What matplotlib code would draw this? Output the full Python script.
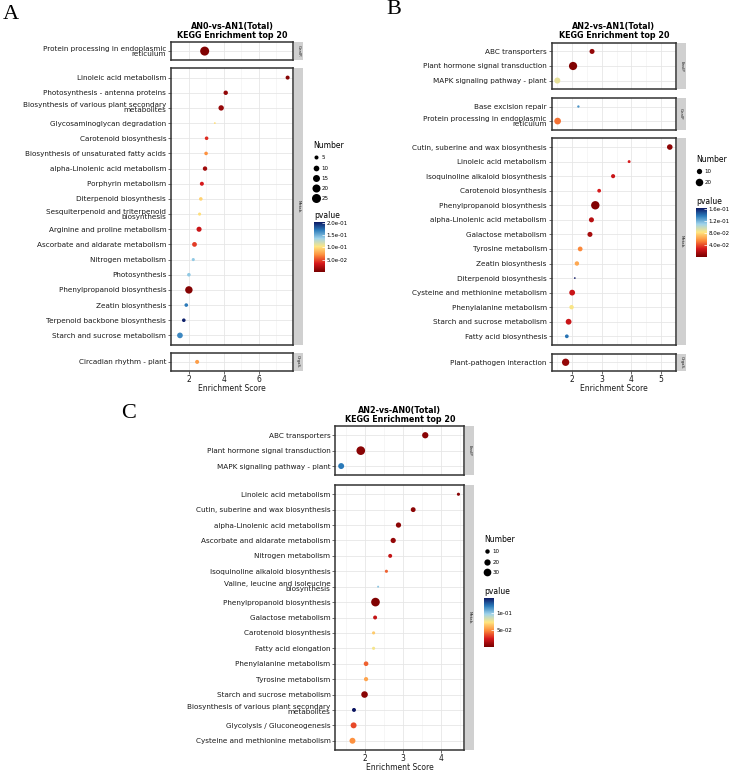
import matplotlib
matplotlib.use("Agg")
import matplotlib.pyplot as plt
from matplotlib.colors import LinearSegmentedColormap, Normalize
from matplotlib.cm import ScalarMappable
from matplotlib.lines import Line2D

W, H = 730, 772
plt.rcParams['font.family'] = ['DejaVu Sans']

# ---- A: AN0-vs-AN1 ----
A_terms = ["Protein processing in endoplasmic\nreticulum", "Linoleic acid metabolism",
           "Photosynthesis - antenna proteins", "Biosynthesis of various plant secondary\nmetabolites",
           "Glycosaminoglycan degradation", "Carotenoid biosynthesis",
           "Biosynthesis of unsaturated fatty acids", "alpha-Linolenic acid metabolism",
           "Porphyrin metabolism", "Diterpenoid biosynthesis",
           "Sesquiterpenoid and triterpenoid\nbiosynthesis", "Arginine and proline metabolism",
           "Ascorbate and aldarate metabolism", "Nitrogen metabolism", "Photosynthesis",
           "Phenylpropanoid biosynthesis", "Zeatin biosynthesis", "Terpenoid backbone biosynthesis",
           "Starch and sucrose metabolism", "Circadian rhythm - plant"]
A_class = ["GenIP."] + ["Metab."] * 18 + ["OrgaS."]
A_score = [2.92, 7.65, 4.12, 3.86, 3.50, 3.03, 3.00, 2.94, 2.76, 2.70,
           2.63, 2.60, 2.34, 2.27, 2.02, 2.02, 1.87, 1.73, 1.51, 2.49]
A_number = [25, 5, 6, 9, 1, 4, 4, 6, 5, 4, 3, 8, 7, 3, 4, 17, 4, 4, 10, 5]
A_pvalue = [0.004, 0.006, 0.010, 0.012, 0.100, 0.040, 0.070, 0.015, 0.035, 0.095,
            0.100, 0.030, 0.045, 0.140, 0.140, 0.005, 0.170, 0.200, 0.165, 0.075]

# ---- B: AN2-vs-AN1 ----
B_terms = ["ABC transporters", "Plant hormone signal transduction", "MAPK signaling pathway - plant",
           "Base excision repair", "Protein processing in endoplasmic\nreticulum",
           "Cutin, suberine and wax biosynthesis", "Linoleic acid metabolism",
           "Isoquinoline alkaloid biosynthesis", "Carotenoid biosynthesis",
           "Phenylpropanoid biosynthesis", "alpha-Linolenic acid metabolism", "Galactose metabolism",
           "Tyrosine metabolism", "Zeatin biosynthesis", "Diterpenoid biosynthesis",
           "Cysteine and methionine metabolism", "Phenylalanine metabolism",
           "Starch and sucrose metabolism", "Fatty acid biosynthesis", "Plant-pathogen interaction"]
B_class = ["EnvIP"] * 3 + ["GenIP"] * 2 + ["Metab."] * 14 + ["OrgaS."]
B_score = [2.67, 2.03, 1.50, 2.21, 1.51, 5.29, 3.92, 3.38, 2.91, 2.78,
           2.65, 2.60, 2.27, 2.16, 2.09, 2.00, 1.98, 1.88, 1.82, 1.78]
B_number = [9, 24, 13, 2, 16, 11, 3, 6, 5, 25, 9, 9, 8, 7, 1, 12, 7, 12, 5, 19]
B_pvalue = [0.010, 0.004, 0.090, 0.130, 0.050, 0.008, 0.030, 0.025, 0.030, 0.005,
            0.020, 0.015, 0.055, 0.065, 0.165, 0.025, 0.085, 0.025, 0.140, 0.010]

# ---- C: AN2-vs-AN0 ----
C_terms = ["ABC transporters", "Plant hormone signal transduction", "MAPK signaling pathway - plant",
           "Linoleic acid metabolism", "Cutin, suberine and wax biosynthesis",
           "alpha-Linolenic acid metabolism", "Ascorbate and aldarate metabolism",
           "Nitrogen metabolism", "Isoquinoline alkaloid biosynthesis",
           "Valine, leucine and isoleucine\nbiosynthesis", "Phenylpropanoid biosynthesis",
           "Galactose metabolism", "Carotenoid biosynthesis", "Fatty acid elongation",
           "Phenylalanine metabolism", "Tyrosine metabolism", "Starch and sucrose metabolism",
           "Biosynthesis of various plant secondary\nmetabolites", "Glycolysis / Gluconeogenesis",
           "Cysteine and methionine metabolism"]
C_class = ["EnvIP"] * 3 + ["Metab."] * 17
C_score = [3.59, 1.88, 1.36, 4.47, 3.27, 2.88, 2.74, 2.66, 2.56, 2.34,
           2.27, 2.26, 2.22, 2.22, 2.02, 2.02, 1.98, 1.70, 1.69, 1.66]
C_number = [20, 38, 18, 5, 12, 14, 14, 8, 5, 2, 38, 8, 5, 5, 11, 9, 22, 8, 18, 18]
C_pvalue = [0.005, 0.005, 0.120, 0.005, 0.006, 0.006, 0.008, 0.020, 0.040, 0.100,
            0.003, 0.020, 0.065, 0.075, 0.040, 0.055, 0.005, 0.144, 0.035, 0.050]

cmap = LinearSegmentedColormap.from_list(
    "pv", ["#7a0000", "#d7191c", "#fd8d3c", "#ffe680", "#9fd3ea", "#2b7bba", "#0a1460"])


def box(l, t, w, h):
    # pixel box (from top-left) -> figure fraction
    return [l / W, 1 - (t + h) / H, w / W, h / H]


def draw_panel(fig, terms, classes, score, number, pvalue, lay):
    groups = list(dict.fromkeys(classes))
    counts = [classes.count(g) for g in groups]
    units = [c + 0.2 for c in counts]
    avail = lay['bottom'] - lay['top'] - lay['gap'] * (len(groups) - 1)
    ppu = avail / sum(units)
    lo, hi = min(score), max(score)
    pad = 0.05 * (hi - lo)
    norm = Normalize(*lay['vlim'])
    width = lay['right'] - lay['left']

    y0 = lay['top']
    start = 0
    ax = None
    for gi, g in enumerate(groups):
        n = counts[gi]
        h = units[gi] * ppu
        ax = fig.add_axes(box(lay['left'], y0, width, h))
        idx = list(range(start, start + n))
        ys = [n - 1 - (i - start) for i in idx]
        ax.scatter([score[i] for i in idx], ys, s=[lay['k'] * number[i] for i in idx],
                   c=[pvalue[i] for i in idx], cmap=cmap, norm=norm,
                   edgecolors='none', zorder=3, clip_on=False)
        ax.set_xlim(lo - pad, hi + pad)
        ax.set_ylim(-0.6, n - 0.4)
        ax.set_yticks(ys)
        ax.set_yticklabels([terms[i] for i in idx], linespacing=0.8)
        ax.set_xticks(lay['xticks'])
        ax.set_xticks(lay['minor'], minor=True)
        ax.set_axisbelow(True)
        ax.grid(which='major', color='#e6e6e6', lw=0.6)
        ax.grid(which='minor', axis='x', color='#f0f0f0', lw=0.4)
        ax.tick_params(axis='y', labelsize=5.2, length=2, width=0.5, color='#333333',
                       pad=1.5, labelcolor='#1a1a1a')
        ax.tick_params(axis='x', labelsize=5.5, length=2, width=0.5, color='#333333',
                       pad=0.8, labelcolor='#1a1a1a')
        ax.tick_params(which='minor', length=0)
        if gi < len(groups) - 1:
            ax.tick_params(axis='x', labelbottom=False, bottom=False)
        for sp in ax.spines.values():
            sp.set_linewidth(1.1)
            sp.set_color('#333333')
        sax = fig.add_axes(box(lay['right'] + 0.5, y0, 9.5, h))
        sax.set_facecolor('#d0d0d0')
        sax.set_xticks([])
        sax.set_yticks([])
        for sp in sax.spines.values():
            sp.set_visible(False)
        sax.text(0.5, 0.5, g, rotation=-90, fontsize=2.8, ha='center', va='center',
                 color='#1a1a1a', transform=sax.transAxes)
        y0 += h + lay['gap']
        start += n

    ax.set_xlabel("Enrichment Score", fontsize=5.5, labelpad=0, color='#1a1a1a')

    fig.text((lay['left'] + width / 2) / W, 1 - lay['title_y'] / H, lay['title'],
             fontsize=5.8, fontweight='bold', ha='center', va='center', linespacing=1.0)

    # size legend
    handles = [Line2D([0], [0], ls='none', marker='o', markersize=(lay['k'] * v) ** 0.5,
                      mfc='black', mec='black', mew=0) for v in lay['sizes']]
    fig.legend(handles, [str(v) for v in lay['sizes']], loc='upper left',
               bbox_to_anchor=(lay['leg_x'] / W, 1 - lay['leg_y'] / H),
               bbox_transform=fig.transFigure, frameon=False, title='Number',
               title_fontsize=5.5, fontsize=4, alignment='left', borderpad=0,
               borderaxespad=0, handletextpad=0.5, handlelength=1.0,
               labelspacing=0.95)

    # colour bar
    cx, ct, cw, ch = lay['cbar']
    cax = fig.add_axes(box(cx, ct, cw, ch))
    cb = fig.colorbar(ScalarMappable(norm=norm, cmap=cmap), cax=cax)
    cb.set_ticks(lay['cticks'])
    cb.set_ticklabels(lay['clabels'])
    cb.ax.tick_params(labelsize=4, length=2, width=0.5, color='white', direction='in', pad=1.5)
    cb.outline.set_visible(False)
    fig.text(cx / W, 1 - (ct - 2) / H, 'pvalue', fontsize=5.5, va='bottom', ha='left')

    fig.text(lay['lab_x'] / W, 1 - lay['lab_y'] / H, lay['label'], fontsize=16,
             family='Liberation Serif', ha='left', va='top')


fig = plt.figure(figsize=(W / 100, H / 100), dpi=100)

draw_panel(fig, A_terms, A_class, A_score, A_number, A_pvalue, dict(
    left=171, right=293, top=42, bottom=371, gap=8.3, xticks=[2, 4, 6], minor=[1, 3, 5, 7],
    vlim=(0.001, 0.204), cticks=[0.05, 0.10, 0.15, 0.20],
    clabels=["5.0e-02", "1.0e-01", "1.5e-01", "2.0e-01"],
    title="AN0-vs-AN1(Total)\nKEGG Enrichment top 20", title_y=31, k=1.68,
    sizes=[5, 10, 15, 20, 25], leg_x=313, leg_y=141, cbar=(314, 221.7, 10.5, 50),
    label="A", lab_x=3, lab_y=5))

draw_panel(fig, B_terms, B_class, B_score, B_number, B_pvalue, dict(
    left=551.7, right=676, top=42.7, bottom=371, gap=8.5, xticks=[2, 3, 4, 5],
    minor=[1.5, 2.5, 3.5, 4.5, 5.5],
    vlim=(0.002, 0.165), cticks=[0.04, 0.08, 0.12, 0.16],
    clabels=["4.0e-02", "8.0e-02", "1.2e-01", "1.6e-01"],
    title="AN2-vs-AN1(Total)\nKEGG Enrichment top 20", title_y=31, k=1.46,
    sizes=[10, 20], leg_x=696, leg_y=155, cbar=(696, 207.7, 10.5, 49),
    label="B", lab_x=386, lab_y=0))

draw_panel(fig, C_terms, C_class, C_score, C_number, C_pvalue, dict(
    left=335.3, right=464.3, top=426, bottom=750, gap=9.7, xticks=[2, 3, 4],
    minor=[1.5, 2.5, 3.5, 4.5],
    vlim=(0.001, 0.144), cticks=[0.05, 0.10], clabels=["5e-02", "1e-01"],
    title="AN2-vs-AN0(Total)\nKEGG Enrichment top 20", title_y=414.5, k=1.02,
    sizes=[10, 20, 30], leg_x=484, leg_y=535, cbar=(484, 597.7, 10.3, 49),
    label="C", lab_x=121, lab_y=404))

fig.savefig("out.png", dpi=100)
